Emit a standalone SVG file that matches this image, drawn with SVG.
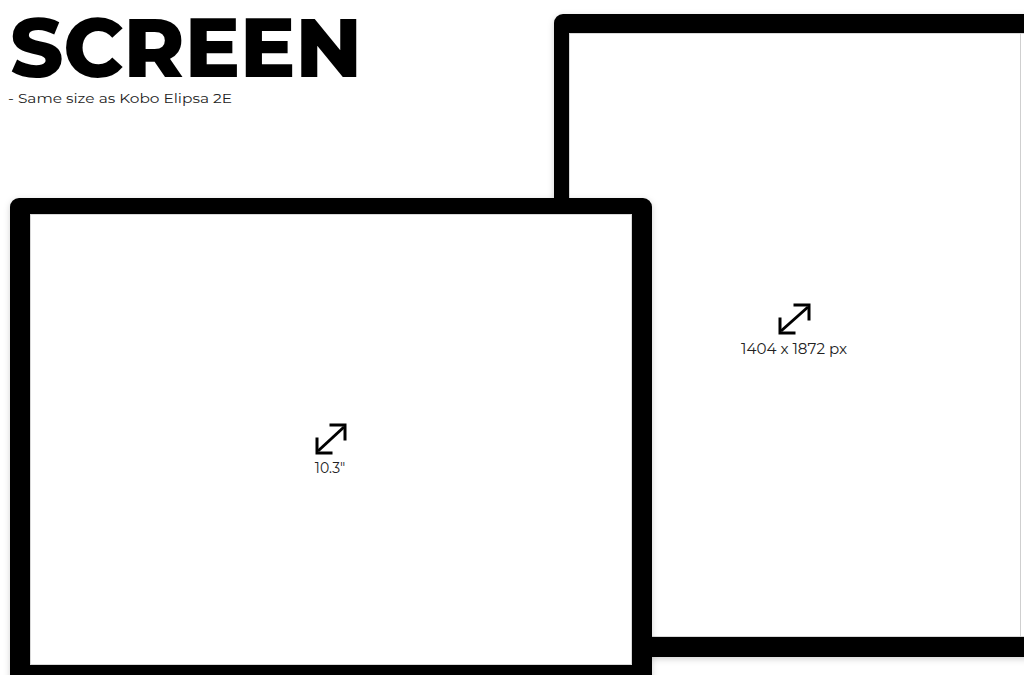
<svg xmlns="http://www.w3.org/2000/svg" width="1024" height="675" viewBox="0 0 1024 675">
  <defs>
    <filter id="shadow" x="-5%" y="-5%" width="110%" height="110%">
      <feDropShadow dx="0" dy="2" stdDeviation="3" flood-color="#000" flood-opacity="0.18"/>
    </filter>
    <style>
      .frame { fill: #000; }
      .screen { fill: #fff; stroke: #d8d8d8; stroke-width: 1; }
      .arrow { stroke: #000; stroke-width: 3; fill: none; }
      .head { stroke: #000; stroke-width: 3; fill: none; stroke-linecap: square; }
      .lbl { font-family: "Montserrat", "Liberation Sans", Arial, sans-serif; font-size: 14px; fill: #222; text-anchor: middle; }
    </style>
  </defs>
  <rect width="1024" height="675" fill="#fff"/>

  <g id="title">
    <text x="10" y="77" font-family="Montserrat, 'Liberation Sans', Arial, sans-serif" font-weight="800" font-size="84" textLength="352" lengthAdjust="spacingAndGlyphs" fill="#000">SCREEN</text>
    <text x="8" y="103" font-family="Montserrat, 'Liberation Sans', Arial, sans-serif" font-size="13.5" textLength="224" lengthAdjust="spacingAndGlyphs" fill="#222">- Same size as Kobo Elipsa 2E</text>
  </g>

  <g id="portrait-screen">
    <rect class="frame" x="554" y="14" width="500" height="643" rx="9" filter="url(#shadow)"/>
    <rect class="screen" x="569.5" y="33.5" width="460" height="603"/>
    <line x1="1020.5" y1="33" x2="1020.5" y2="637" stroke="#cfcfcf" stroke-width="1"/>
    <g id="portrait-arrow">
      <line class="arrow" x1="781" y1="331" x2="808" y2="307"/>
      <path class="head" d="M795,305 L809,305 L809,319"/>
      <path class="head" d="M780,319 L780,333 L794,333"/>
    </g>
    <text class="lbl" x="794" y="354" textLength="106" lengthAdjust="spacingAndGlyphs">1404 x 1872 px</text>
  </g>

  <g id="landscape-screen">
    <rect class="frame" x="10" y="198" width="642" height="490" rx="9" filter="url(#shadow)"/>
    <rect class="screen" x="30.5" y="214.5" width="601" height="450"/>
    <g id="landscape-arrow">
      <line class="arrow" x1="318" y1="451" x2="344" y2="427"/>
      <path class="head" d="M331,425 L345,425 L345,439"/>
      <path class="head" d="M317,439 L317,453 L331,453"/>
    </g>
    <text class="lbl" x="330" y="473">10.3"</text>
  </g>
</svg>
